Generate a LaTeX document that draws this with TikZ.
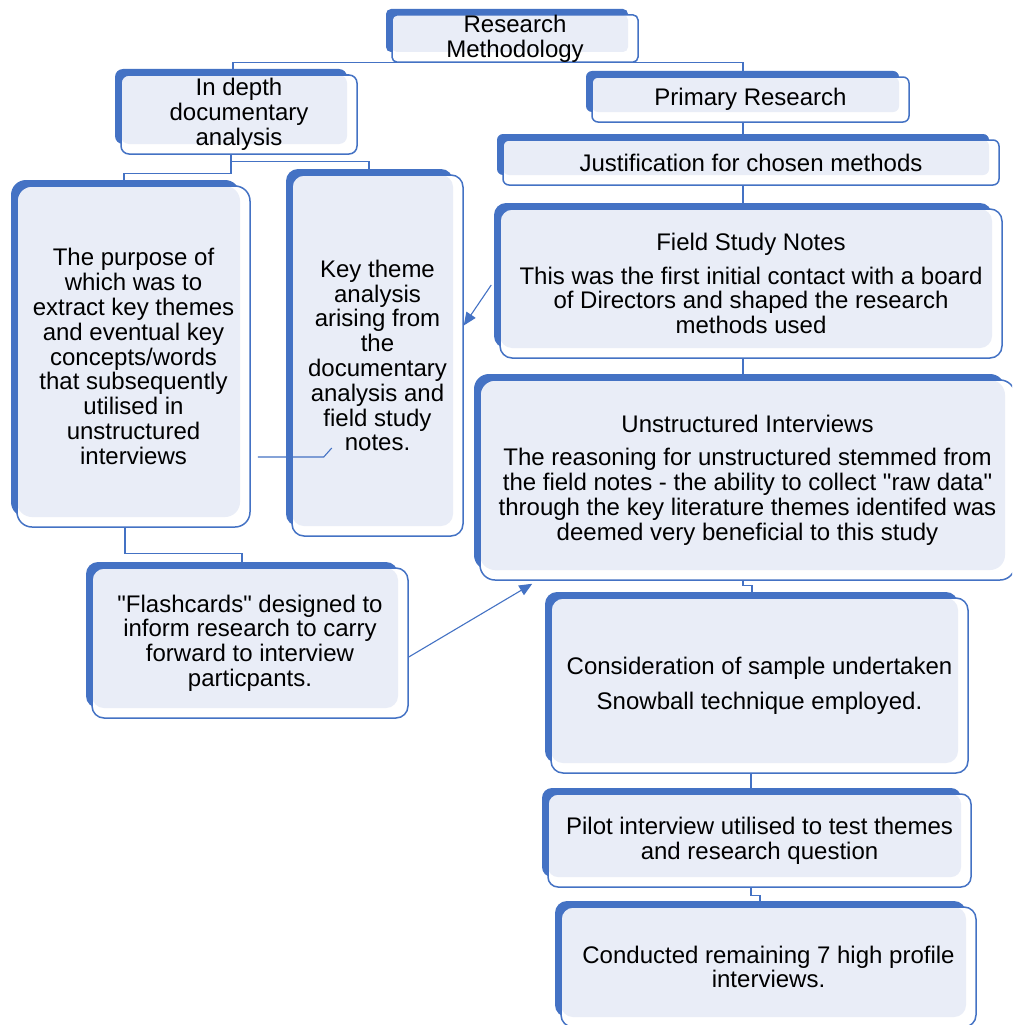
\documentclass[tikz,border=0pt]{standalone}
\usepackage{fontspec}
\setmainfont{Liberation Sans}
\usetikzlibrary{arrows.meta,calc}
\pgfdeclarelayer{background}
\pgfdeclarelayer{paper}
\pgfsetlayers{paper,background,main}
\definecolor{bblue}{HTML}{4472C4}
\definecolor{blight}{HTML}{E9EDF7}
\tikzset{
  boxfront/.style={draw=bblue, line width=1.5pt, inner sep=0pt, align=center,
    font=\fontsize{24}{24.8}\selectfont, text=black},
  conn/.style={draw=bblue, line width=1.3pt},
  arr/.style={draw=bblue, line width=1.1pt, -{Triangle[length=13pt,width=11pt]}, bblue},
}
\newcommand\mydbox[7]{%
  \fill[bblue, rounded corners=#6] (#2-6,#3-6) rectangle (#4-10,#5-10);
  \fill[white, rounded corners=#6] (#2,#3) rectangle (#4,#5);
  \fill[blight, rounded corners=#6] (#2,#3) rectangle (#4-10,#5-10);
  \node[boxfront, rounded corners=#6, minimum width={(#4-#2)*1pt}, minimum height={(#5-#3)*1pt}] (#1) at ({(#2+#4)/2},{(#3+#5)/2}) {#7};
}
\begin{document}
\begin{tikzpicture}[x=1pt,y=-1pt]
\useasboundingbox (0,0) rectangle (1012,1025);
\clip (0,0) rectangle (1012,1025);
\begin{pgfonlayer}{paper}
\fill[white] (0,0) rectangle (1012,1025);
\end{pgfonlayer}

\mydbox{RM}{392}{15}{638}{62}{5pt}{Research\\Methodology}
\mydbox{ID}{121}{75}{357}{154}{8pt}{In depth\\documentary\\analysis}
\mydbox{PR}{592}{77}{909}{122}{6pt}{Primary Research}
\mydbox{JU}{503}{140}{999}{185}{6pt}{Justification for chosen methods}
\mydbox{PU}{17}{186}{250}{527}{15pt}{The purpose of\\which was to\\extract key themes\\and eventual key\\concepts/words\\that subsequently\\utilised in\\unstructured\\interviews}
\mydbox{KT}{292}{175}{463}{536}{12pt}{Key theme\\analysis\\arising from\\the\\documentary\\analysis and\\field study\\notes.}
\mydbox{FS}{500}{209}{1002}{358}{12pt}{Field Study Notes\\[9pt]This was the first initial contact with a board\\of Directors and shaped the research\\methods used}
\mydbox{UI}{480}{380}{1015}{580}{15pt}{Unstructured Interviews\\[9pt]The reasoning for unstructured stemmed from\\the field notes - the ability to collect \textquotedbl raw data\textquotedbl\\through the key literature themes identifed was\\deemed very beneficial to this study}
\mydbox{FC}{92}{568}{408}{718}{12pt}{\textquotedbl Flashcards\textquotedbl{} designed to\\inform research to carry\\forward to interview\\particpants.}
\mydbox{CS}{551}{598}{968}{773}{12pt}{Consideration of sample undertaken\\[10pt]Snowball technique employed.}
\mydbox{PI}{548}{794}{971}{887}{10pt}{Pilot interview utilised to test themes\\and research question}
\mydbox{CO}{561}{907}{976}{1027}{12pt}{Conducted remaining 7 high profile\\interviews.}

\begin{pgfonlayer}{background}
\draw[conn] ([xshift=-6pt]ID.north) |- (RM.south) -| ([xshift=-7.5pt]PR.north);
\draw[conn] ([xshift=-8pt]ID.south) -- ++(0,19) -| ([xshift=-9.5pt]PU.north);
\draw[conn] ([xshift=-8pt]ID.south) -- ++(0,7) -| ([xshift=-8.5pt]KT.north);
\draw[conn] ([xshift=-7.5pt]PR.south) -- ([xshift=-7.5pt]PR.south |- JU.north);
\draw[conn] ([xshift=-8pt]JU.south) -- ([xshift=-8pt]JU.south |- FS.north);
\draw[conn] ([xshift=-8pt]FS.south) -- ([xshift=-8pt]FS.south |- UI.north);
\draw[conn] ([xshift=-4.5pt]UI.south) -- ++(0,5) -| ([xshift=-7.5pt]CS.north);
\draw[conn] ([xshift=-8.5pt]CS.south) -- ([xshift=-8.5pt]CS.south |- PI.north);
\draw[conn] ([xshift=-8.5pt]PI.south) -- ++(0,8) -| ([xshift=-8.5pt]CO.north);
\draw[conn] ([xshift=-8.5pt]PU.south) -- ++(0,26) -| ([xshift=-8pt]FC.north);
\end{pgfonlayer}

\draw[conn, line width=1.1pt] ([shift={(7,100.5)}]PU.east) -- ++(66,0) -- ++(8,-9);
\draw[arr] ([shift={(-8,1.5)}]FS.west) -- ([shift={(0,-30)}]KT.east);
\draw[arr] ([shift={(0,14)}]FC.east) -- ([shift={(53,3)}]UI.south west);
\end{tikzpicture}
\end{document}
